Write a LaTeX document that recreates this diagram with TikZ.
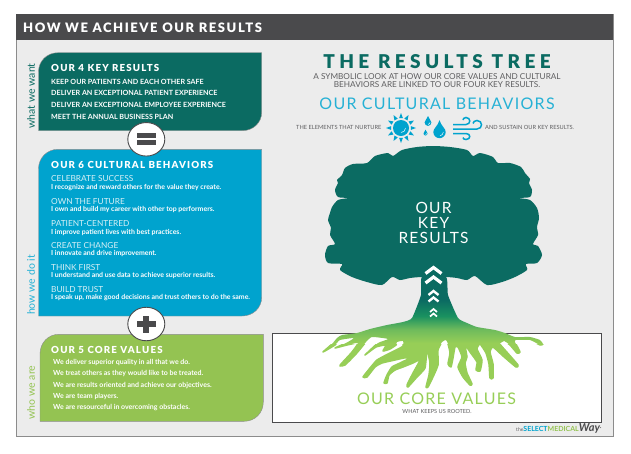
\documentclass[tikz,border=0pt]{standalone}
\usepackage{fontspec}
\setmainfont{Lato}
\newfontfamily\headfont{Lato}[UprightFont=* Black,LetterSpace=12]
\newfontfamily\titlefont{Lato}[UprightFont=* Black,LetterSpace=23]
\newfontfamily\widefont{Lato}[LetterSpace=8]
\usetikzlibrary{shapes.geometric,calc}
\definecolor{keygreen}{HTML}{0B6B62}
\definecolor{cultblue}{HTML}{00A3CE}
\definecolor{corelime}{HTML}{94C352}
\definecolor{rootlime}{HTML}{97CE57}
\definecolor{rootmid}{HTML}{6FBB5C}
\definecolor{trunkgreen}{HTML}{1A9160}
\definecolor{panelgrey}{HTML}{ECECEC}
\definecolor{headgrey}{HTML}{4A4A4C}
\definecolor{textgrey}{HTML}{5E5E60}
\definecolor{softwhite}{HTML}{D8F0F6}
\pgfdeclareverticalshading{rootshade}{100bp}{color(0bp)=(rootlime); color(45bp)=(rootlime); color(51bp)=(rootmid); color(57bp)=(trunkgreen); color(64bp)=(keygreen); color(100bp)=(keygreen)}
\newcommand{\rootpath}{plot[smooth cycle,tension=0.3] coordinates {
    (422,277) (421,295) (412,318) (403,322) (387,325) (370,329) (357,333) (342,335) (337,338) (332,344) (323,352)
    (335,345) (340,340) (354,338) (346,343) (335,348) (347,345) (358,343)
    (352,352) (341,364) (340,366) (345,365) (356,354) (366,342) (372,337) (388,339)
    (378,343) (365,355) (376,347) (386,345) (383,351) (390,349) (396,345) (397,342) (403,341) (403,346) (400,348)
    (388,354) (377,360) (370,368) (363,377) (367,377) (375,367) (382,363) (395,360) (404,358)
    (410,358) (400,363) (392,367) (387,375) (384,383) (387,383) (389,375) (395,370) (403,367) (413,363)
    (420,360) (413,373) (407,385) (408,387) (417,377) (425,368) (427,350)
    (430,363) (429,375) (426,387) (428,387) (433,377) (438,365) (438,350) (442,342) (446,340)
    (448,344) (450,353) (448,364) (451,367) (453,358) (455,347) (458,347)
    (462,357) (458,367) (463,377) (470,385) (472,384) (467,373) (465,363) (467,357) (465,345)
    (470,352) (477,362) (476,370) (480,371) (482,360) (477,349) (480,344)
    (486,353) (489,364) (490,378) (493,378) (493,364) (490,352) (493,347)
    (503,356) (516,367) (518,365) (505,350) (500,344) (504,341)
    (510,345) (517,353) (520,352) (515,342) (516,340)
    (530,340) (540,345) (543,344) (540,340) (530,337) (515,337) (505,333) (495,330) (477,327) (467,323) (458,318) (448,295) (446,277)}}
\tikzset{
  txt/.style={inner sep=0pt,anchor=west,align=left},
  boxhead/.style={txt,white,font=\headfont\fontsize{9.7}{10}\selectfont},
  keyline/.style={txt,white,font=\bfseries\fontsize{7.15}{8}\selectfont},
  cultname/.style={txt,softwhite,font=\fontsize{8.3}{9}\selectfont},
  cultline/.style={txt,white,font=\bfseries\fontsize{6.95}{7}\selectfont},
  coreline/.style={txt,white,font=\bfseries\fontsize{7}{7}\selectfont},
  sidelabel/.style={inner sep=0pt,rotate=90,font=\fontsize{10.5}{12}\selectfont},
  opbadge/.style={ellipse,draw=headgrey,fill=white,line width=0.9pt,minimum width=37pt,minimum height=33.5pt,inner sep=0pt},
  panel/.style={draw=black!45,line width=0.4pt},
  chevron/.style={draw=white,line join=miter},
  waterdrop/.pic={
    \fill[cultblue] (0,-1.9) .. controls (0.3,-0.9) and (1,-0.6) .. (1,0)
      .. controls (1,0.55) and (0.55,1) .. (0,1)
      .. controls (-0.55,1) and (-1,0.55) .. (-1,0)
      .. controls (-1,-0.6) and (-0.3,-0.9) .. (0,-1.9);
    \draw[white,line width=0.45pt] (0.62,0) .. controls (0.62,0.3) and (0.35,0.58) .. (0.08,0.62);
  }
}
\begin{document}
\begin{tikzpicture}[x=1pt,y=-1pt]
  \useasboundingbox (0,0) rectangle (631,453);
  \fill[white] (0,0) rectangle (631,453);
  % frame
  \draw[fill=panelgrey,draw=black!45,line width=0.8pt] (16,14) rectangle (613,436);
  \fill[headgrey] (16,14) rectangle (613,40);
  \node (pagetitle) [txt,white,font=\headfont\fontsize{13}{14}\selectfont] at (23,27.5) {HOW WE ACHIEVE OUR RESULTS};
  % left panels
  \draw[panel,fill=keygreen] (38.5,130.7) -- (38.5,72) .. controls (38.5,61) and (47,52.7) .. (58,52.7) -- (261.7,52.7) -- (261.7,112) .. controls (261.7,123) and (253,130.7) .. (242,130.7) -- cycle;
  \draw[panel,fill=cultblue] (38.5,316) -- (38.5,169) .. controls (38.5,158) and (47,149.3) .. (58,149.3) -- (261.7,149.3) -- (261.7,297) .. controls (261.7,308) and (253,316) .. (242,316) -- cycle;
  \draw[panel,fill=corelime] (40,421.3) -- (40,354) .. controls (40,343) and (48,334.3) .. (59,334.3) -- (263.3,334.3) -- (263.3,402) .. controls (263.3,413) and (255,421.3) .. (244,421.3) -- cycle;
  \node (wantlabel) [sidelabel,keygreen] at (31,96) {what we want};
  \node (howlabel) [sidelabel,cultblue!85!white] at (31,285) {how we do it};
  \node (wholabel) [sidelabel,corelime] at (31,392.5) {who we are};
  \node (keyhead) [boxhead] at (51,68) {OUR 4 KEY RESULTS};
  \node (key1) [keyline] at (51,82) {KEEP OUR PATIENTS AND EACH OTHER SAFE};
  \node (key2) [keyline] at (51,93.3) {DELIVER AN EXCEPTIONAL PATIENT EXPERIENCE};
  \node (key3) [keyline] at (51,105) {DELIVER AN EXCEPTIONAL EMPLOYEE EXPERIENCE};
  \node (key4) [keyline] at (51,117) {MEET THE ANNUAL BUSINESS PLAN};
  \node (culthead) [boxhead] at (51,165) {OUR 6 CULTURAL BEHAVIORS};
  \node (cult1) [cultname] at (51,179) {CELEBRATE SUCCESS};
  \node (cult1b) [cultline] at (51,187.7) {I recognize and reward others for the value they create.};
  \node (cult2) [cultname] at (51,201.2) {OWN THE FUTURE};
  \node (cult2b) [cultline] at (51,209.7) {I own and build my career with other top performers.};
  \node (cult3) [cultname] at (51,223.5) {PATIENT-CENTERED};
  \node (cult3b) [cultline] at (51,232) {I improve patient lives with best practices.};
  \node (cult4) [cultname] at (51,245.5) {CREATE CHANGE};
  \node (cult4b) [cultline] at (51,253.8) {I innovate and drive improvement.};
  \node (cult5) [cultname] at (51,267.5) {THINK FIRST};
  \node (cult5b) [cultline] at (51,275.8) {I understand and use data to achieve superior results.};
  \node (cult6) [cultname] at (51,289.5) {BUILD TRUST};
  \node (cult6b) [cultline] at (51,298) {I speak up, make good decisions and trust others to do the same.};
  \node (corehead) [boxhead] at (51,349.5) {OUR 5 CORE VALUES};
  \node (core1) [coreline] at (53,362.7) {We deliver superior quality in all that we do.};
  \node (core2) [coreline] at (53,373.8) {We treat others as they would like to be treated.};
  \node (core3) [coreline] at (53,385.2) {We are results oriented and achieve our objectives.};
  \node (core4) [coreline] at (53,396.5) {We are team players.};
  \node (core5) [coreline] at (53,408) {We are resourceful in overcoming obstacles.};
  % badges
  \node (equals) [opbadge] at (146.3,139.3) {};
  \fill[headgrey] (137,132.8) rectangle (155.7,137.8);
  \fill[headgrey] (137,140.3) rectangle (155.7,145.3);
  \node (plus) [opbadge] at (146.3,324) {};
  \fill[headgrey] (143.3,315.5) rectangle (149.3,332.7);
  \fill[headgrey] (137,321) rectangle (155.7,327);
  % right column
  \node (treetitle) [keygreen,inner sep=0pt,font=\titlefont\fontsize{19}{21}\selectfont] at (437,62) {THE RESULTS TREE};
  \node (treesub) [textgrey,inner sep=0pt,align=center,font=\fontsize{8.2}{8}\selectfont] at (437,81) {A SYMBOLIC LOOK AT HOW OUR CORE VALUES AND CULTURAL\\BEHAVIORS ARE LINKED TO OUR FOUR KEY RESULTS.};
  \node (culttitle) [cultblue!85!white,inner sep=0pt,font=\widefont\fontsize{16}{18}\selectfont] at (437,104) {OUR CULTURAL BEHAVIORS};
  \node (nurture) [txt,textgrey,font=\fontsize{5.7}{6}\selectfont] at (296,127) {THE ELEMENTS THAT NURTURE};
  \node (sustain) [txt,textgrey,font=\fontsize{5.7}{6}\selectfont] at (485,127) {AND SUSTAIN OUR KEY RESULTS.};
  % icons
  \fill[cultblue] (401,128) circle (8);
  \draw[white,line width=0.5pt] (405.5,128) .. controls (405.5,130.5) and (403.5,132.5) .. (401,132.5);
  \foreach \a in {0,30,...,330}
    \fill[cultblue] ($(401,128)+(\a:15)$) -- ($(401,128)+(\a+11:10)$) -- ($(401,128)+(\a-11:10)$) -- cycle;
  \pic[scale=6.2] at (439.5,132) {waterdrop};
  \pic[scale=3.4] at (428,122.5) {waterdrop};
  \pic[scale=2] at (425.5,133.5) {waterdrop};
  \draw[cultblue,line width=1.5pt] (453,124.5) -- (466,124.5) .. controls (471,124.5) and (471,117.5) .. (466,117.5) .. controls (464,117.5) and (463,119) .. (463,120);
  \draw[cultblue,line width=1.5pt] (453,129) -- (477,129) .. controls (483,129) and (483,120.5) .. (477,120.5) .. controls (475,120.5) and (473,122) .. (473,123.5);
  \draw[cultblue,line width=1.5pt] (453,133.5) -- (466,133.5) .. controls (471,133.5) and (471,139.5) .. (466,139.5) .. controls (464,139.5) and (463,138.5) .. (463,137.5);
  % roots box
  \draw[fill=white,draw=headgrey,line width=0.8pt] (272,333.7) rectangle (601,422);
  % crown
  \fill[keygreen] plot[smooth cycle,tension=0.45] coordinates {
    (433,146) (450,147) (467,150) (473,156) (480,153) (493,157) (498,163) (510,163) (521,167) (525,173) (530,179) (529,183) (532,190) (530,197) (519,198) (530,200) (537,208) (539,218) (537,227) (538,235) (533,244) (538,246) (542,255) (537,263) (526,264) (527,270) (515,277) (502,282) (487,285) (475,276) (467,280) (457,278) (446,277)
    (422,277) (410,278) (400,280) (392,277) (382,285) (367,282) (352,277) (340,270) (342,264) (328,263) (325,255) (328,246) (335,244) (330,235) (331,228) (328,220) (330,213) (332,207) (338,200) (348,198) (338,197) (335,190) (338,183) (337,180) (342,175) (345,168) (353,164) (367,163) (375,156) (388,153) (393,156) (402,150) (417,147)};
  % trunk and roots
  \begin{scope}
    \clip (300,344) rectangle (560,395);
    \draw[rootlime,line width=1.5pt,line join=round] \rootpath;
  \end{scope}
  \shade[shading=rootshade] \rootpath;
  % chevrons
  \foreach \cy/\cw/\ch/\cl in {267.5/8/6/3.2,277/8/6/3.2,291/5/4/2.4,297.5/5/4/2.4,309/3.5/3/1.7,313.5/3.5/3/1.7}
    \draw[chevron,line width=\cl pt] (433.5-\cw,\cy+\ch) -- (433.5,\cy) -- (433.5+\cw,\cy+\ch);
  \node (crownlabel) [white,inner sep=0pt,align=center,font=\widefont\fontsize{15.5}{15}\selectfont] at (433.5,223) {OUR\\KEY\\RESULTS};
  \node (rootlabel) [rootlime,inner sep=0pt,font=\widefont\fontsize{16}{18}\selectfont] at (436.5,399) {OUR CORE VALUES};
  \node (rootsub) [textgrey,inner sep=0pt,font=\fontsize{5.6}{6}\selectfont] at (437,411.3) {WHAT KEEPS US ROOTED.};
  % logo
  \node (logo) [inner sep=0pt,anchor=west,font=\fontsize{7}{8}\selectfont] at (516,428) {{\color{textgrey}\fontsize{5}{5}\selectfont the}{\color{cultblue}\bfseries SELECT}{\color{corelime}\bfseries MEDICAL}{\color{headgrey}\bfseries\itshape\fontsize{11}{11}\selectfont Way}};
  \coordinate (logotail) at (601,427);
  \draw[headgrey,line width=0.4pt] (logo.east) -- (logotail);
\end{tikzpicture}
\end{document}
